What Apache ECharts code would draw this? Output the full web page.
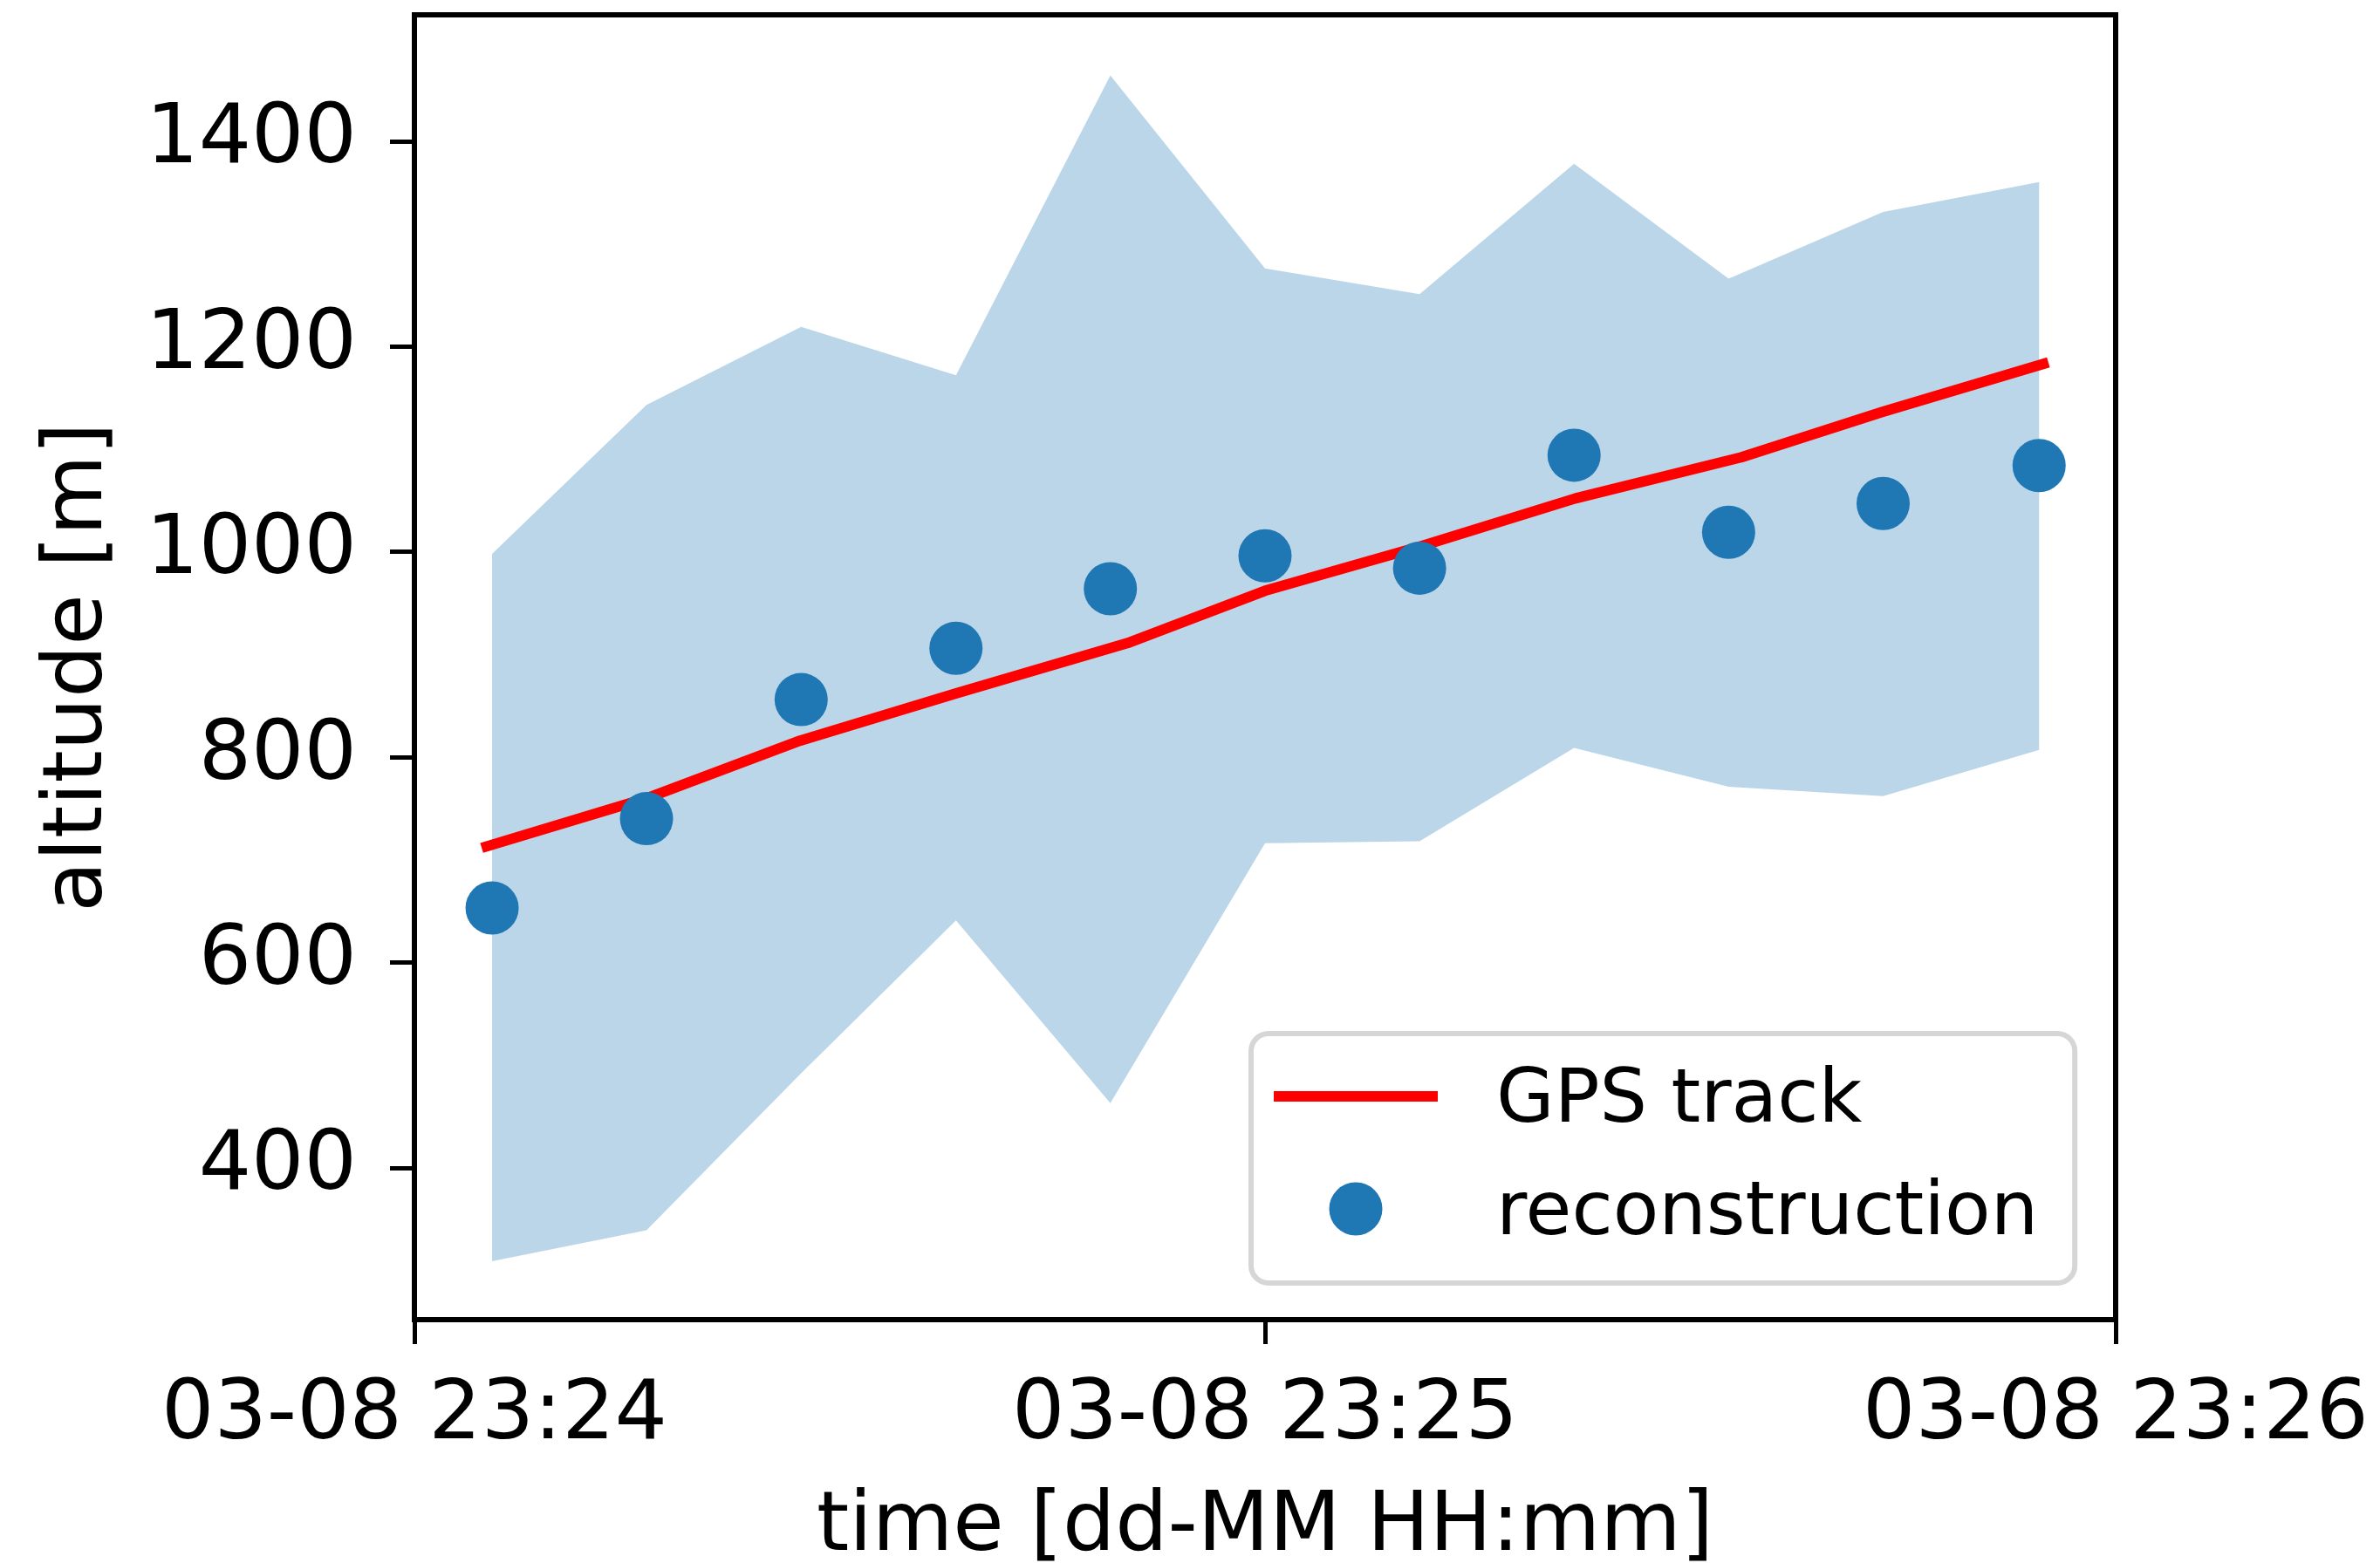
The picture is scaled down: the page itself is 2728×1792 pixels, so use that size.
<!DOCTYPE html>
<html>
<head>
<meta charset="utf-8">
<script src="https://cdn.jsdelivr.net/npm/echarts@6/dist/echarts.min.js"></script>
<style>
html,body{margin:0;padding:0;background:#fff;}
#chart{width:2728px;height:1792px;}
</style>
</head>
<body>
<div id="chart"></div>
<script>
// seconds after 03-08 23:24:00
var recTimes = [5.48, 16.37, 27.28, 38.2, 49.09, 60.0, 70.9, 81.8, 92.7, 103.6, 114.6];
var recAlt = [653, 740, 856, 906, 964, 996, 984, 1094, 1019, 1047, 1084];
var bandUpper = [998, 1143, 1219, 1172, 1464, 1276, 1251, 1378, 1266, 1331, 1360];
var bandLower = [309, 339, 492, 641, 463, 716, 718, 809, 771, 762, 807];
var gpsTimes = [5.1, 16.4, 27.2, 38.2, 50.3, 60.0, 70.9, 81.9, 93.6, 103.5, 114.9];
var gpsAlt = [713, 760, 816, 862, 911, 962, 1005, 1052, 1092, 1136, 1183];
var xTickValues = [0, 60, 120];
var xTickLabels = ['03-08 23:24', '03-08 23:25', '03-08 23:26'];
var yTickValues = [400, 600, 800, 1000, 1200, 1400];

var FONT = 'DejaVu Sans';
var bandData = recTimes.map(function (t, i) { return [t, bandLower[i], bandUpper[i]]; });
var gpsData = gpsTimes.map(function (t, i) { return [t, gpsAlt[i]]; });
var recData = recTimes.map(function (t, i) { return [t, recAlt[i]]; });

function renderBand(params, api) {
  if (params.dataIndex !== 0) return null;
  var upper = [], lower = [];
  for (var i = 0; i < bandData.length; i++) {
    upper.push(api.coord([bandData[i][0], bandData[i][2]]));
    lower.push(api.coord([bandData[i][0], bandData[i][1]]));
  }
  var pts = upper.concat(lower.reverse());
  return {type: 'polygon', shape: {points: pts},
          style: {fill: 'rgba(31,119,180,0.3)', stroke: 'none'}, silent: true};
}

// legend handles (a bar and a disc), lifted slightly so they line up with the text
var lineIcon = 'path://M0,0L188,0L188,12L0,12Z M0,26L0.01,26';
var dotIcon = 'path://M0,30.5A30.5,30.5,0,1,1,61,30.5A30.5,30.5,0,1,1,0,30.5Z M0,75L0.01,75';

var chart = echarts.init(document.getElementById('chart'), null, {renderer: 'canvas'});
chart.setOption({
  animation: false,
  backgroundColor: '#ffffff',
  grid: {left: 475, top: 17, width: 1950, height: 1496, show: true, containLabel: false,
         outerBoundsMode: 'none',
         borderColor: '#000', borderWidth: 6, backgroundColor: 'transparent'},
  xAxis: {
    type: 'value', min: 0, max: 120, interval: 60,
    name: 'time [dd-MM HH:mm]', nameLocation: 'middle', nameGap: 192, nameMoveOverlap: false,
    nameTextStyle: {fontFamily: FONT, fontSize: 95, color: '#000'},
    axisLine: {show: true, onZero: false, lineStyle: {color: '#000', width: 6}},
    axisTick: {show: true, length: 28, lineStyle: {color: '#000', width: 5}},
    axisLabel: {show: true, margin: 64, fontFamily: FONT, fontSize: 95, color: '#000',
      formatter: function (v) { var i = xTickValues.indexOf(v); return i >= 0 ? xTickLabels[i] : ''; }},
    splitLine: {show: false}
  },
  yAxis: {
    type: 'value', min: 252, max: 1523,
    name: 'altitude [m]', nameLocation: 'middle', nameGap: 336, nameMoveOverlap: false,
    nameTextStyle: {fontFamily: FONT, fontSize: 95, color: '#000'},
    axisLine: {show: true, onZero: false, lineStyle: {color: '#000', width: 6}},
    axisTick: {show: true, length: 28, customValues: yTickValues, lineStyle: {color: '#000', width: 5}},
    axisLabel: {show: true, margin: 66, customValues: yTickValues, fontFamily: FONT, fontSize: 95, color: '#000',
      formatter: function (v) { return String(v); }},
    splitLine: {show: false}
  },
  legend: {
    orient: 'vertical', left: 1434, top: 1185,
    padding: [36, 42, 35, 26],
    itemWidth: 188, itemHeight: 75, itemGap: 43, symbolKeepAspect: true,
    backgroundColor: '#fff', borderColor: '#d6d6d6', borderWidth: 6, borderRadius: 20,
    textStyle: {fontFamily: FONT, fontSize: 86, color: '#000', lineHeight: 61, padding: [0, 0, 0, 62]},
    data: [
      {name: 'GPS track', icon: lineIcon, itemStyle: {color: '#ff0000'}},
      {name: 'reconstruction', icon: dotIcon, itemStyle: {color: '#1f77b4'}}
    ]
  },
  series: [
    {name: 'band', type: 'custom', renderItem: renderBand, data: bandData, z: 1, silent: true,
     encode: {x: 0, y: [1, 2]}},
    {name: 'GPS track', type: 'line', data: gpsData, symbol: 'none', showSymbol: false, z: 3,
     lineStyle: {color: '#ff0000', width: 12, cap: 'square', join: 'round'},
     itemStyle: {color: '#ff0000'}},
    {name: 'reconstruction', type: 'scatter', data: recData, symbol: 'circle', symbolSize: 61, z: 4,
     itemStyle: {color: '#1f77b4', opacity: 1}}
  ]
});
</script>
</body>
</html>
